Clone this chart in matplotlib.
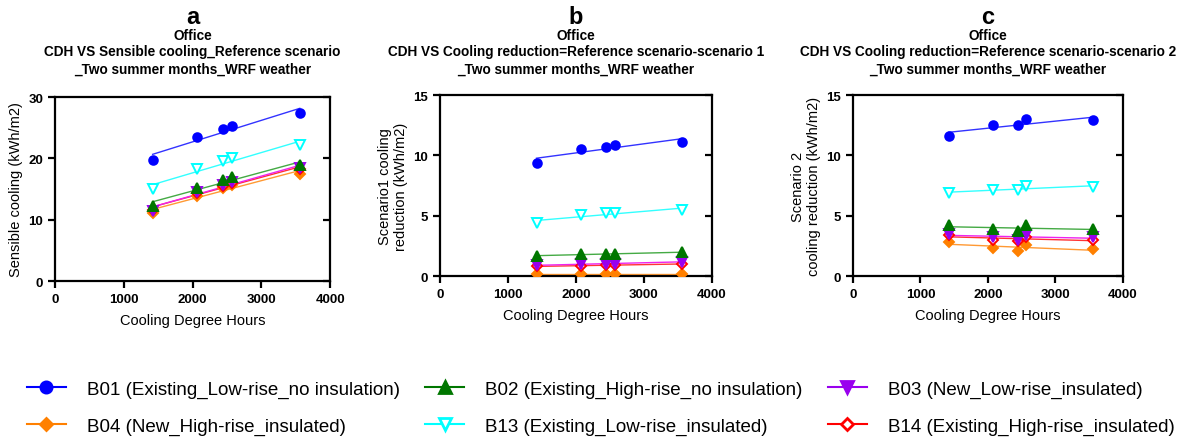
import numpy as np
import matplotlib
matplotlib.use("Agg")
import matplotlib.pyplot as plt

plt.rcParams["font.family"] = ["Liberation Sans", "DejaVu Sans"]

cdh = np.array([1420, 2070, 2440, 2570, 3560])

names = ["B01", "B02", "B03", "B04", "B13", "B14"]
labels = [
    "B01 (Existing_Low-rise_no insulation)",
    "B02 (Existing_High-rise_no insulation)",
    "B03 (New_Low-rise_insulated)",
    "B04 (New_High-rise_insulated)",
    "B13 (Existing_Low-rise_insulated)",
    "B14 (Existing_High-rise_insulated)",
]

# panel a: sensible cooling, reference scenario
sens_a = {
    "B01": [19.7, 23.5, 24.8, 25.3, 27.4],
    "B02": [12.3, 15.2, 16.4, 16.9, 18.9],
    "B03": [11.5, 14.5, 15.7, 16.1, 18.4],
    "B04": [11.1, 13.8, 15.1, 15.6, 17.5],
    "B13": [15.0, 18.2, 19.6, 20.0, 22.2],
    "B14": [11.6, 14.3, 15.5, 16.0, 18.2],
}
# panel b: reduction scenario 1
red_b = {
    "B01": [9.4, 10.5, 10.7, 10.9, 11.1],
    "B02": [1.7, 1.8, 1.8, 1.8, 2.0],
    "B03": [0.9, 1.0, 1.0, 1.0, 1.2],
    "B04": [0.15, 0.15, 0.15, 0.15, 0.15],
    "B13": [4.4, 5.1, 5.2, 5.2, 5.5],
    "B14": [0.8, 0.85, 0.9, 0.9, 1.0],
}
# panel c: reduction scenario 2
red_c = {
    "B01": [11.6, 12.5, 12.5, 13.0, 12.9],
    "B02": [4.2, 3.9, 3.7, 4.2, 3.9],
    "B03": [3.5, 3.2, 3.0, 3.4, 3.2],
    "B04": [2.8, 2.3, 2.1, 2.6, 2.2],
    "B13": [6.9, 7.1, 7.1, 7.5, 7.4],
    "B14": [3.4, 3.0, 2.9, 3.2, 3.0],
}

style = {
    "B01": dict(color="#0000ff", marker="o", mfc="#0000ff", ms=6.2, lc="#3333ff"),
    "B02": dict(color="#007700", marker="^", mfc="#007700", ms=6.5, lc="#44aa44"),
    "B03": dict(color="#9900ee", marker="v", mfc="#9900ee", ms=6.5, lc="#ee22ee"),
    "B04": dict(color="#ff8000", marker="D", mfc="#ff8000", ms=5, lc="#ff9933"),
    "B13": dict(color="#00ffff", marker="v", mfc="white", ms=7, lc="#33ffff"),
    "B14": dict(color="#ff0000", marker="D", mfc="white", ms=5, lc="#ff3333"),
}
draw_order = ["B04", "B14", "B03", "B02", "B13", "B01"]

fig = plt.figure(figsize=(11.89, 4.39), dpi=100)

panels = [
    ("a", [0.0463, 0.3576, 0.2313, 0.419], sens_a, 30, 10,
     "Sensible cooling (kWh/m2)",
     "CDH VS Sensible cooling_Reference scenario\n_Two summer months_WRF weather"),
    ("b", [0.370, 0.369, 0.2288, 0.412], red_b, 15, 5,
     "Scenario1 cooling\nreduction (kWh/m2)",
     "CDH VS Cooling reduction=Reference scenario-scenario 1\n_Two summer months_WRF weather"),
    ("c", [0.7174, 0.369, 0.227, 0.412], red_c, 15, 5,
     "Scenario 2\ncooling reduction (kWh/m2)",
     "CDH VS Cooling reduction=Reference scenario-scenario 2\n_Two summer months_WRF weather"),
]

handles = {}
for letter, pos, data, ymax, ystep, ylab, title in panels:
    ax = fig.add_axes(pos)
    for n in draw_order:
        s = style[n]
        y = np.array(data[n])
        k, b = np.polyfit(cdh, y, 1)
        xx = np.array([cdh.min(), cdh.max()])
        ax.plot(xx, k * xx + b, color=s["lc"], lw=1.0, zorder=2)
        ax.plot(cdh, y, ls="none", marker=s["marker"], ms=s["ms"],
                mfc=s["mfc"], mec=s["color"], mew=1.4, zorder=3)
        handles[n] = plt.Line2D([], [], color=s["color"], marker=s["marker"],
                                ms=s["ms"] * 1.3, mfc=s["mfc"], mec=s["color"],
                                mew=2, lw=1.5)
    ax.set_xlim(0, 4000)
    ax.set_ylim(0, ymax)
    ax.set_xticks([0, 1000, 2000, 3000, 4000])
    ax.set_yticks(np.arange(0, ymax + 0.1, ystep))
    for sp in ax.spines.values():
        sp.set_linewidth(1.6)
    ax.tick_params(direction="out", width=1.6, length=5, labelsize=9.5)
    ax.tick_params(axis="y", which="both", right=True)
    for t in ax.yaxis.get_major_ticks():
        t.tick2line.set_marker(matplotlib.lines.TICKLEFT)
    for lab in ax.get_xticklabels() + ax.get_yticklabels():
        lab.set_fontweight("bold")
    ax.set_xlabel("Cooling Degree Hours", fontsize=10.5, labelpad=6)
    ax.set_ylabel(ylab, fontsize=10.5, labelpad=4)
    cx = pos[0] + pos[2] / 2
    fig.text(cx, 1 - 17 / 439, letter, ha="center", va="center",
             fontsize=17, fontweight="bold")
    fig.text(cx, 1 - 36 / 439, "Office", ha="center", va="center",
             fontsize=9.8, fontweight="bold")
    fig.text(cx, 1 - 61 / 439, title, ha="center", va="center",
             fontsize=9.8, fontweight="bold", linespacing=1.3)

order = ["B01", "B04", "B02", "B13", "B03", "B14"]
fig.legend([handles[n] for n in order], [labels[names.index(n)] for n in order],
           ncol=3, loc="center", bbox_to_anchor=(0.505, 1 - 408.5 / 439),
           frameon=False, fontsize=13.5, handlelength=2.1, handletextpad=1.1,
           columnspacing=1.35, labelspacing=1.05)

fig.savefig("out.png", dpi=100)
